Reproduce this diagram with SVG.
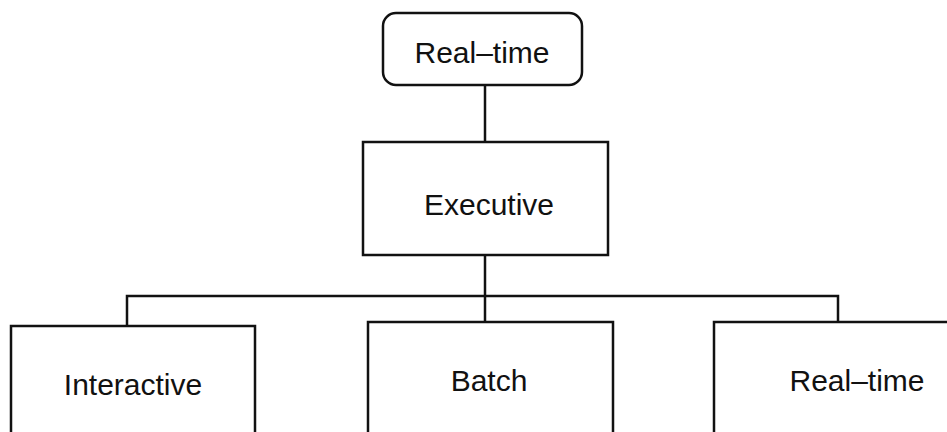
<svg xmlns="http://www.w3.org/2000/svg" width="947" height="432" viewBox="0 0 947 432">
<style>
.box{fill:#fff;stroke:#111;stroke-width:2.5}
.ln{fill:none;stroke:#111;stroke-width:2.5}
text{font-family:"Liberation Sans",Arial,sans-serif;font-size:30px;fill:#111;text-anchor:middle}
</style>
<rect width="947" height="432" fill="#fff"/>
<g id="connectors">
<path class="ln" d="M485 85 V142"/>
<path class="ln" d="M485 255 V322"/>
<path class="ln" d="M127 326 V296 H838 V322"/>
</g>
<g id="realtime-top">
<rect class="box" x="383" y="13" width="199" height="72" rx="13"/>
<text x="482" y="63">Real–time</text>
</g>
<g id="executive">
<rect class="box" x="363" y="142" width="245" height="113"/>
<text x="489" y="215">Executive</text>
</g>
<g id="interactive">
<path class="box" d="M11 440 V326 H255 V440"/>
<text x="133" y="395">Interactive</text>
</g>
<g id="batch">
<path class="box" d="M368 440 V322 H613 V440"/>
<text x="489" y="391">Batch</text>
</g>
<g id="realtime-bottom">
<path class="box" d="M714 440 V322 H955"/>
<text x="857" y="391">Real–time</text>
</g>
</svg>
